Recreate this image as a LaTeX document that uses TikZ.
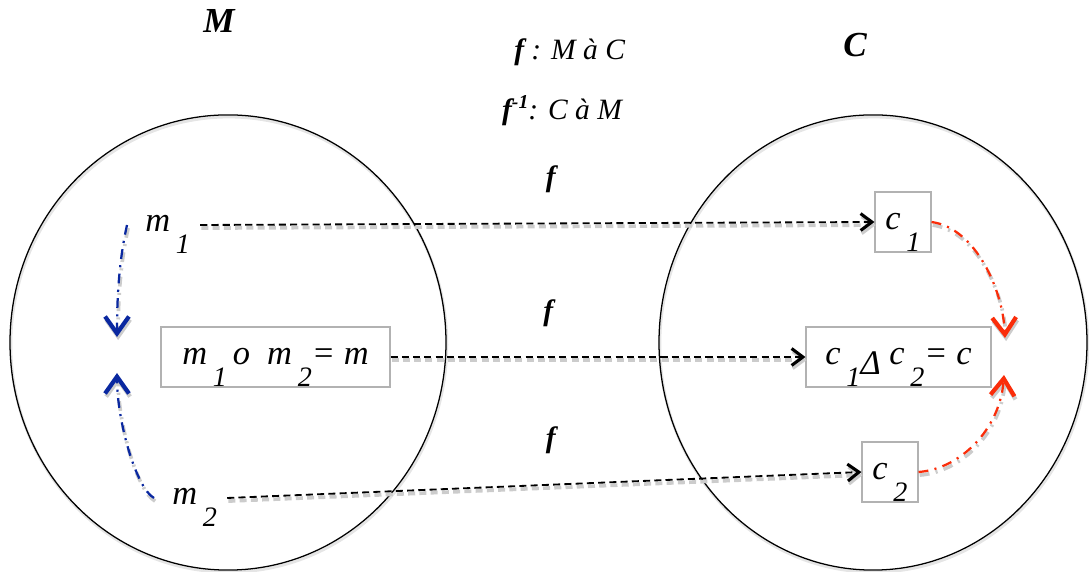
\documentclass[tikz,border=0pt]{standalone}
\usepackage{fontspec}
\setmainfont{Liberation Serif}
\usetikzlibrary{shapes.geometric,arrows.meta,positioning,calc}
\definecolor{setblue}{RGB}{10,40,160}
\definecolor{setred}{RGB}{250,45,10}
\newcommand{\lowsub}[1]{\raisebox{-15pt}{\fontsize{20}{20}\selectfont #1}}

\begin{document}
\begin{tikzpicture}[
  font=\itshape,
  shd/.style={preaction={draw=black!20, line width=2.6pt, #1, transform canvas={xshift=0.8pt,yshift=-2.2pt}}},
  setring/.style={ellipse, draw=black, line width=0.9pt, inner sep=0pt,
                  preaction={draw=black!10, line width=2pt, transform canvas={xshift=0.6pt,yshift=-1.5pt}}},
  elt/.style={rectangle, draw=black!30, line width=0.8pt, minimum height=1.5cm, inner xsep=0pt,
              inner ysep=0.1cm, text height=0.85cm, text depth=0.45cm, font=\fontsize{24.5}{26}\selectfont\itshape},
  elem/.style={inner xsep=0.25cm, inner ysep=0cm, text height=0.9cm, text depth=0.55cm,
               font=\fontsize{24.5}{26}\selectfont\itshape},
  setlab/.style={font=\fontsize{25}{27}\selectfont\bfseries\itshape, anchor=base},
  hdr/.style={font=\fontsize{21}{23}\selectfont\itshape, anchor=base},
  flab/.style={font=\fontsize{21}{23}\selectfont\bfseries\itshape, yshift=1.1cm},
  fmap/.style={-{Straight Barb[length=8pt,width=12pt,line width=2.2pt]}, line width=1.3pt,
               dash pattern=on 5pt off 3pt, shd={dash pattern=on 5pt off 3pt}},
  blu/.style={-{Straight Barb[length=12pt,width=17pt,line width=3pt]}, line width=1.6pt, draw=setblue,
              dash pattern=on 7pt off 4.5pt on 1.5pt off 4.5pt, shd={dash pattern=on 7pt off 4.5pt on 1.5pt off 4.5pt}},
  rdd/.style={blu, draw=setred},
]
\useasboundingbox (0,0) rectangle (27.225,14.3);

% ---------- the two sets ----------
\node[setring, minimum width=10.9cm, minimum height=11.38cm] (Mset) at (5.7,5.7375) {};
\node[setring, minimum width=10.7cm, minimum height=11.38cm] (Cset) at (21.825,5.7375) {};
\node[setlab] (Mlab) at (5.475,13.475) {M};
\node[setlab] (Clab) at (21.375,12.875) {C};
% ---------- mapping ----------
\node[hdr] (fwd) at (14.24,12.8) {{\bfseries f} : M à C};
\node[hdr] (inv) at (14.05,11.3) {{\bfseries f\raisebox{8pt}{\fontsize{14}{15}\selectfont -1}}: C à M};
% ---------- elements of M ----------
\node[elem, anchor=base west] (m1) at (3.375,8.5) {m\,\lowsub{1}};
\node[elt, minimum width=5.725cm] (mm) at (6.8875,5.375) {m\,\lowsub{1}\,o\enspace m\,\lowsub{2}= m};
\node[elem, anchor=base west] (m2) at (4.05,1.675) {m\,\lowsub{2}};
% ---------- elements of C ----------
\node[elt, minimum width=1.4cm] (c1) at (22.575,8.75) {c\,\lowsub{1}};
\node[elt, minimum width=4.625cm] (cc) at (22.4625,5.375) {c\,\lowsub{1}\raisebox{-7pt}{Δ} c\,\lowsub{2}= c};
\node[elt, minimum width=1.4cm] (c2) at (22.25,2.5) {c\,\lowsub{2}};
% ---------- tips of the curved arrows ----------
\coordinate (mtop) at (2.925,5.875);
\coordinate (mbot) at (2.925,4.975);
\coordinate (ctop) at (25.125,5.85);
\coordinate (cbot) at (25.1,4.925);

% ---------- arrows ----------
\draw[fmap] (m1.east) -- node[flab,pos=.52]{f} (c1.west);
\draw[fmap] (mm.east) -- node[flab,pos=.38]{f} (cc.west);
\draw[fmap] (m2.east) -- node[flab,pos=.51]{f} (c2.west);
\draw[blu] ([xshift=-0.2cm]m1.west) .. controls +(-0.2,-0.9) and +(0,1.0) .. (mtop);
\draw[blu] ([xshift=-0.2cm]m2.west) .. controls +(-0.45,0.25) and +(0,-1.2) .. (mbot);
\draw[rdd] (c1.east) .. controls +(1.1,-0.15) and +(-0.05,1.2) .. (ctop);
\draw[rdd] (c2.east) .. controls +(1.05,0.08) and +(-0.1,-1.35) .. (cbot);
\end{tikzpicture}
\end{document}
